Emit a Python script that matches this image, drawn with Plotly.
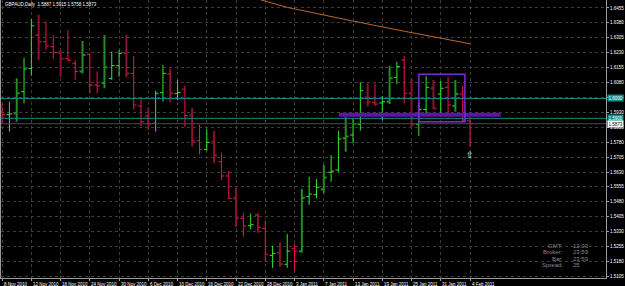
import plotly.graph_objects as go

# ---- data (GBPAUD daily, bar index 0 = 8 Nov 2010) ----
opens = [1.5935, 1.5918, 1.5925, 1.6034, 1.6151, 1.6319, 1.6285, 1.6260, 1.6230, 1.6200,
         1.6177, 1.6135, 1.6222, 1.6067, 1.6077, 1.6101, 1.6165, 1.6227, 1.6126, 1.5962,
         1.5912, 1.5875, 1.6029, 1.6123, 1.6024, 1.6046, 1.5914, 1.5786, 1.5744, 1.5779,
         1.5682, 1.5610, 1.5498, 1.5397, 1.5360, 1.5414, 1.5346, 1.5211, 1.5224, 1.5166,
         1.5246, 1.5232, 1.5506, 1.5516, 1.5543, 1.5629, 1.5640, 1.5800, 1.5816, 1.5870,
         1.6006, 1.5981, 1.5977, 1.5983, 1.6106, 1.6193, 1.6026, 1.5870, 1.5945, 1.6051,
         1.6022, 1.6056, 1.5962, 1.6022, 1.5887]
highs = [1.5975, 1.5984, 1.6101, 1.6205, 1.6398, 1.6421, 1.6386, 1.6319, 1.6244, 1.6344,
         1.6193, 1.6289, 1.6227, 1.6135, 1.6319, 1.6235, 1.6244, 1.6319, 1.6213, 1.6000,
         1.5955, 1.6039, 1.6168, 1.6151, 1.6093, 1.6064, 1.5953, 1.5868, 1.5846, 1.5836,
         1.5727, 1.5635, 1.5548, 1.5422, 1.5422, 1.5422, 1.5385, 1.5258, 1.5276, 1.5318,
         1.5268, 1.5544, 1.5606, 1.5595, 1.5665, 1.5715, 1.5836, 1.5905, 1.5900, 1.6081,
         1.6076, 1.6076, 1.6012, 1.6163, 1.6185, 1.6213, 1.6101, 1.5983, 1.6113, 1.6093,
         1.6088, 1.6109, 1.6093, 1.6062, 1.5915]
lows = [1.5870, 1.5833, 1.5883, 1.5975, 1.6114, 1.6193, 1.6244, 1.6198, 1.6109, 1.6188,
        1.6093, 1.6126, 1.6026, 1.6026, 1.6051, 1.6093, 1.6109, 1.6106, 1.5945, 1.5861,
        1.5841, 1.5833, 1.5984, 1.5981, 1.5992, 1.5858, 1.5757, 1.5719, 1.5737, 1.5674,
        1.5590, 1.5494, 1.5355, 1.5305, 1.5342, 1.5325, 1.5179, 1.5148, 1.5153, 1.5148,
        1.5137, 1.5224, 1.5464, 1.5498, 1.5523, 1.5581, 1.5631, 1.5732, 1.5774, 1.5838,
        1.5959, 1.5962, 1.5891, 1.5972, 1.6073, 1.5975, 1.5855, 1.5811, 1.5922, 1.5945,
        1.5925, 1.5905, 1.5933, 1.5883, 1.5758]
closes = [1.5920, 1.5922, 1.6026, 1.6148, 1.6365, 1.6285, 1.6264, 1.6230, 1.6200, 1.6193,
          1.6135, 1.6219, 1.6067, 1.6062, 1.6157, 1.6165, 1.6227, 1.6126, 1.5967, 1.5883,
          1.5871, 1.6026, 1.6126, 1.6026, 1.6030, 1.5914, 1.5787, 1.5744, 1.5779, 1.5714,
          1.5610, 1.5498, 1.5397, 1.5358, 1.5365, 1.5352, 1.5216, 1.5221, 1.5166, 1.5232,
          1.5232, 1.5501, 1.5519, 1.5553, 1.5603, 1.5634, 1.5796, 1.5808, 1.5871, 1.6039,
          1.5981, 1.5972, 1.5983, 1.6101, 1.6160, 1.6026, 1.5870, 1.5945, 1.6056, 1.5950,
          1.6051, 1.5967, 1.6022, 1.5891, 1.5873]

# moving average (visible part, bars 35..64)
ma_x = list(range(35, 65))
ma_vals = [1.6500, 1.6488, 1.6478, 1.6468, 1.6458, 1.6450, 1.6442, 1.6434, 1.6427, 1.6419,
           1.6412, 1.6404, 1.6397, 1.6389, 1.6382, 1.6374, 1.6367, 1.6360, 1.6352, 1.6345,
           1.6338, 1.6331, 1.6324, 1.6317, 1.6310, 1.6303, 1.6296, 1.6289, 1.6282, 1.6275]

date_ticks = list(range(0, 65, 4))
date_labels = ["8 Nov 2010", "12 Nov 2010", "18 Nov 2010", "24 Nov 2010", "30 Nov 2010",
               "6 Dec 2010", "10 Dec 2010", "16 Dec 2010", "22 Dec 2010", "28 Dec 2010",
               "3 Jan 2011", "7 Jan 2011", "13 Jan 2011", "19 Jan 2011", "25 Jan 2011",
               "31 Jan 2011", "4 Feb 2011"]
price_ticks = [1.5105, 1.5180, 1.5255, 1.5330, 1.5405, 1.5480, 1.5555, 1.5630, 1.5705,
               1.5780, 1.5855, 1.5930, 1.6005, 1.6080, 1.6155, 1.6230, 1.6305, 1.6380, 1.6455]

level_upper = 1.6000
level_lower = 1.5900
bid = 1.5873
zone_level = 1.5918
zone_x = [46.1, 68.2]
box_x = [57.0, 63.3]
box_y = [1.5883, 1.6121]

info_labels = ["GMT:", "Broker:", "Bar:", "Spread:"]
info_values = ["12:03", "23:59", "23:59", "25"]
title_text = "GBPAUD,Daily  1.5887 1.5915 1.5758 1.5873"

# ---- figure ----
n = len(opens)
idx = list(range(n))
heavy = [i for i in idx if i % 3 == 2]
light = [i for i in idx if i % 3 != 2]

def sub(arr, ids):
    return [arr[i] for i in ids]

fig = go.Figure()
fig.add_trace(go.Ohlc(
    x=light, open=sub(opens, light), high=sub(highs, light), low=sub(lows, light),
    close=sub(closes, light), tickwidth=0.4,
    increasing=dict(line=dict(color="#33E633", width=1)),
    decreasing=dict(line=dict(color="#F3124C", width=1)),
    hoverinfo="skip"))
fig.add_trace(go.Ohlc(
    x=heavy, open=sub(opens, heavy), high=sub(highs, heavy), low=sub(lows, heavy),
    close=sub(closes, heavy), tickwidth=0.4,
    increasing=dict(line=dict(color="#268A26", width=2)),
    decreasing=dict(line=dict(color="#8C1230", width=2)),
    hoverinfo="skip"))
fig.add_trace(go.Scatter(x=ma_x, y=ma_vals, mode="lines",
                         line=dict(color="#B8692A", width=1), hoverinfo="skip"))

shapes = [
    dict(type="line", xref="paper", x0=0, x1=1, y0=bid, y1=bid, line=dict(color="#4a4a4a", width=1)),
    dict(type="line", xref="paper", x0=0, x1=1, y0=level_upper, y1=level_upper, line=dict(color="#138C8C", width=1)),
    dict(type="line", xref="paper", x0=0, x1=1, y0=level_lower, y1=level_lower, line=dict(color="#138C8C", width=1)),
    dict(type="line", x0=zone_x[0], x1=zone_x[1], y0=zone_level, y1=zone_level, line=dict(color="#5A16A6", width=4)),
    dict(type="rect", x0=box_x[0], x1=box_x[1], y0=box_y[0], y1=box_y[1], line=dict(color="#7A2CD0", width=1.5)),
]

font_small = dict(family="Liberation Sans", size=4.5, color="#FFFFFF")
annotations = [
    dict(text=title_text, xref="paper", yref="paper", x=0.003, y=0.985, xanchor="left", yanchor="middle",
         showarrow=False, font=dict(family="Liberation Sans", size=4.5, color="#FFFFFF")),
    dict(text="⇧", x=n - 1, y=lows[-1], yanchor="top", xanchor="center", yshift=-1, showarrow=False,
         font=dict(family="DejaVu Sans", size=9, color="#FFFFFF")),
]
for val, bg, fg in [(level_upper, "#138C8C", "#FFFFFF"), (level_lower, "#138C8C", "#FFFFFF"), (bid, "#FFFFFF", "#000000")]:
    annotations.append(dict(text=f"{val:.4f}", xref="paper", x=1, y=val, xanchor="left", yanchor="middle",
                            xshift=1, showarrow=False, bgcolor=bg, borderpad=0.5,
                            font=dict(family="Liberation Sans", size=4.5, color=fg)))
for tv, tl in zip(date_ticks, date_labels):
    annotations.append(dict(text=tl, x=tv, xref="x", yref="paper", y=0, xanchor="left", yanchor="top",
                            xshift=-0.5, yshift=-1.5, showarrow=False, font=font_small))
row_y = [0.115, 0.0925, 0.0695, 0.0468]
for lab, val, yy in zip(info_labels, info_values, row_y):
    annotations.append(dict(text=lab, xref="paper", yref="paper", x=0.932, y=yy, xanchor="right",
                            yanchor="middle", showarrow=False,
                            font=dict(family="Liberation Sans", size=6, color="#8A8A8A")))
    annotations.append(dict(text=val, xref="paper", yref="paper", x=0.942, y=yy, xanchor="left",
                            yanchor="middle", showarrow=False,
                            font=dict(family="Liberation Sans", size=6, color="#8A8A8A")))

fig.update_layout(
    width=625, height=286, margin=dict(l=1, r=19, t=0, b=8),
    paper_bgcolor="#000000", plot_bgcolor="#000000", showlegend=False,
    shapes=shapes, annotations=annotations,
    xaxis=dict(range=[-0.15, 82.6], tickmode="array", tickvals=date_ticks, showticklabels=False,
               ticks="outside", ticklen=2, tickcolor="#A0A0A0",
               showgrid=True, gridcolor="#3C3C3C", griddash="dot",
               showline=True, linecolor="#9A9A9A", linewidth=1, zeroline=False,
               rangeslider=dict(visible=False), automargin=False, fixedrange=True),
    yaxis=dict(range=[1.5097, 1.6495], side="right", tickmode="array", tickvals=price_ticks,
               ticktext=[f"{v:.4f}" for v in price_ticks], ticks="outside", ticklen=2,
               tickcolor="#A0A0A0", tickfont=font_small, showgrid=True, gridcolor="#3C3C3C",
               griddash="dot", showline=True, mirror=True, linecolor="#9A9A9A", linewidth=1,
               zeroline=False, automargin=False, fixedrange=True),
)

fig.write_html("out.html", config={"displayModeBar": False})
